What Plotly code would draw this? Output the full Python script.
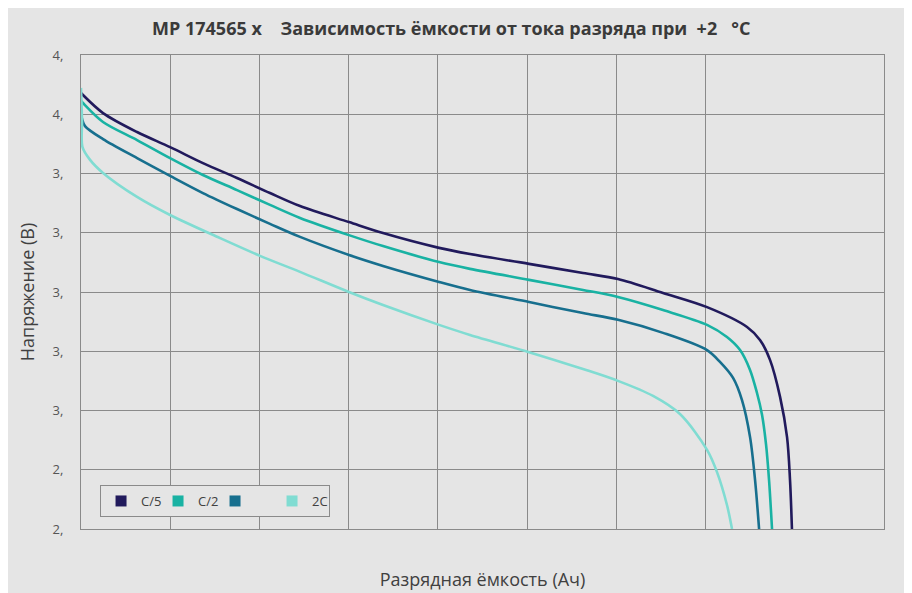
import plotly.graph_objects as go

# ---- data (capacity in Ah, voltage in V) ----
series_names = ["C/5", "C/2", " ", "2C"]
series_colors = ["#211a5c", "#19b2a3", "#176f8e", "#80dcd2"]

cap_c5 = [0.000, 0.013, 0.148, 0.377, 0.599, 0.820, 1.049, 1.271, 1.473, 1.802, 2.031, 2.408, 2.616,
          3.013, 3.376, 3.611, 3.914, 4.210, 4.479, 4.566, 4.634, 4.701, 4.748, 4.768, 4.781]
volt_c5 = [4.172, 4.165, 4.104, 4.040, 3.989, 3.935, 3.885, 3.834, 3.790, 3.736, 3.699, 3.649, 3.628,
           3.595, 3.564, 3.544, 3.497, 3.449, 3.382, 3.338, 3.270, 3.146, 3.010, 2.865, 2.700]

cap_c2 = [0.000, 0.013, 0.148, 0.377, 0.599, 0.820, 1.049, 1.271, 1.473, 1.802, 2.031, 2.408, 2.616,
          3.013, 3.376, 3.611, 3.914, 4.210, 4.344, 4.432, 4.499, 4.546, 4.580, 4.607, 4.627, 4.647]
volt_c2 = [4.145, 4.138, 4.074, 4.013, 3.952, 3.895, 3.844, 3.794, 3.750, 3.692, 3.655, 3.601, 3.578,
           3.541, 3.507, 3.483, 3.439, 3.389, 3.348, 3.304, 3.237, 3.159, 3.085, 2.984, 2.865, 2.700]

cap_1c = [0.000, 0.007, 0.027, 0.148, 0.377, 0.599, 0.820, 1.049, 1.271, 1.473, 1.802, 2.031, 2.408,
          2.616, 3.013, 3.376, 3.611, 3.914, 4.210, 4.297, 4.385, 4.445, 4.499, 4.533, 4.560]
volt_1c = [4.101, 4.084, 4.060, 4.016, 3.952, 3.892, 3.834, 3.780, 3.730, 3.686, 3.625, 3.588, 3.534,
           3.507, 3.466, 3.429, 3.406, 3.362, 3.304, 3.264, 3.210, 3.135, 3.011, 2.865, 2.700]

cap_2c = [0.000, 0.007, 0.010, 0.061, 0.148, 0.377, 0.599, 0.935, 1.204, 1.473, 1.802, 2.031, 2.408,
          2.616, 3.013, 3.376, 3.611, 3.847, 4.028, 4.210, 4.277, 4.344, 4.378]
volt_2c = [4.189, 4.081, 3.989, 3.946, 3.902, 3.821, 3.760, 3.682, 3.622, 3.568, 3.500, 3.456, 3.389,
           3.355, 3.297, 3.240, 3.200, 3.149, 3.088, 2.967, 2.892, 2.781, 2.700]

y_tick_vals = [2.7, 2.9, 3.1, 3.3, 3.5, 3.7, 3.9, 4.1, 4.3]
y_tick_text = ["2,", "2,", "3,", "3,", "3,", "3,", "3,", "4,", "4,"]
x_grid_vals = [0.6, 1.2, 1.8, 2.4, 3.0, 3.6, 4.2]

title_text = "MP 174565 x\u00a0\u00a0\u00a0\u00a0Зависимость ёмкости от тока разряда при\u00a0\u00a0+2\u00a0\u00a0\u00a0°C"
x_title = "Разрядная ёмкость (Ач)"
y_title = "Напряжение (В)"

BG = "#e5e5e5"
GRID = "#8a8a8a"
TXT = "#404040"

fig = go.Figure()
caps = [cap_c5, cap_c2, cap_1c, cap_2c]
volts = [volt_c5, volt_c2, volt_1c, volt_2c]
for name, color, xs, ys in zip(series_names, series_colors, caps, volts):
    fig.add_trace(go.Scatter(x=xs, y=ys, mode="lines", name=name, showlegend=False,
                             line=dict(color=color, width=2.6, shape="spline", smoothing=0.9)))
# legend entries as squares
for name, color in zip(series_names, series_colors):
    fig.add_trace(go.Scatter(x=[None], y=[None], mode="markers", name=name,
                             marker=dict(symbol="square", size=11, color=color)))

fig.update_layout(
    width=912, height=593,
    margin=dict(l=73, r=36, t=47, b=72),
    paper_bgcolor=BG, plot_bgcolor=BG,
    title=dict(text="<b>" + title_text + "</b>", x=0.486, xanchor="center", y=0.9646, yanchor="middle",
               font=dict(family="Open Sans", size=18, color="#3a3a3a")),
    font=dict(family="Open Sans", color=TXT),
    legend=dict(orientation="h", x=0.0237, y=0.0928, xanchor="left", yanchor="top",
                bgcolor=BG, bordercolor="#8a8a8a", borderwidth=1,
                font=dict(size=13, color=TXT), entrywidth=12, entrywidthmode="pixels",
                itemwidth=30),
    xaxis=dict(range=[0, 5.4], tickvals=x_grid_vals, showticklabels=False, ticks="",
               showgrid=True, gridcolor=GRID, gridwidth=1, zeroline=False,
               showline=True, linecolor=GRID, linewidth=1, mirror=True,
               title=dict(text=x_title, standoff=44, font=dict(size=18, color=TXT))),
    yaxis=dict(range=[2.7, 4.3], tickvals=y_tick_vals, ticktext=y_tick_text, ticks="",
               ticklabelstandoff=14,
               tickfont=dict(size=13, color="#555555"),
               showgrid=True, gridcolor=GRID, gridwidth=1, zeroline=False,
               showline=True, linecolor=GRID, linewidth=1, mirror=True,
               title=dict(text=y_title, standoff=13, font=dict(size=18, color=TXT))),
)

fig.write_html("out.html")
